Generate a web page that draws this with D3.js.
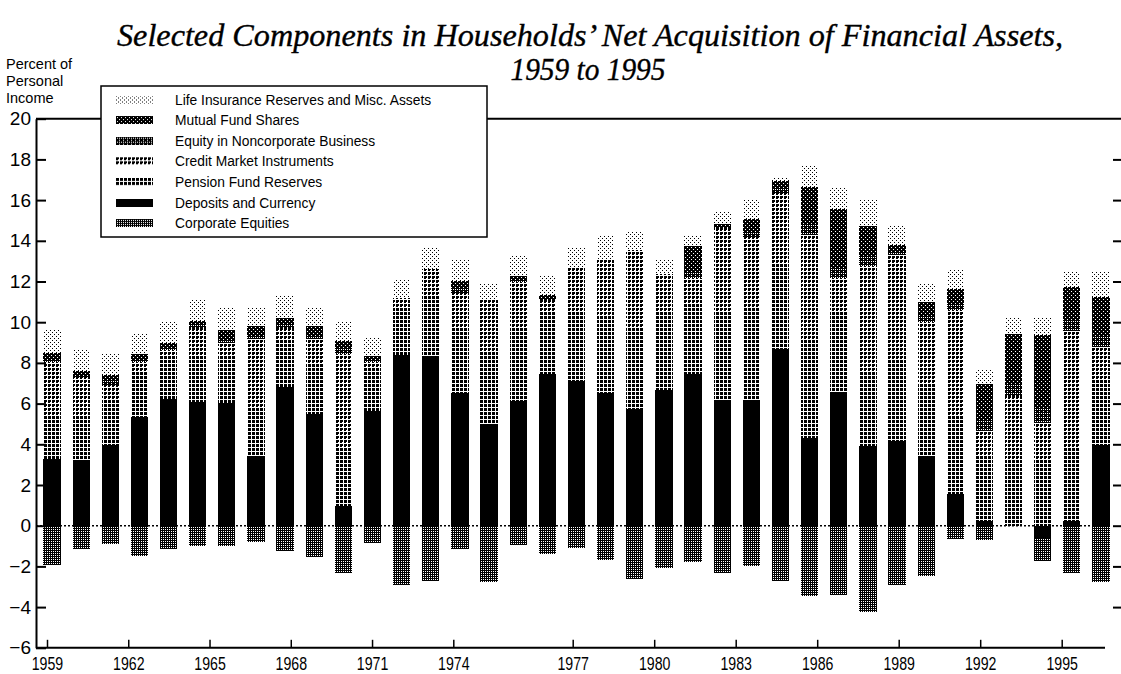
<!DOCTYPE html>
<html><head><meta charset="utf-8">
<script src="https://cdn.jsdelivr.net/npm/d3@7"></script>
<style>body{margin:0;background:#fff}svg{display:block}</style>
</head><body>
<svg id="c" width="1121" height="674"></svg>
<script>
// ---------- data (percent of personal income) ----------
const years = [1959,1960,1961,1962,1963,1964,1965,1966,1967,1968,1969,1970,1971,1972,1973,1974,1975,1976,1977,1978,1979,1980,1981,1982,1983,1984,1985,1986,1987,1988,1989,1990,1991,1992,1993,1994,1995];
const lifeInsurance = [1.12,1.03,1.07,1.03,1.06,1.05,1.14,0.95,1.12,0.93,0.94,0.92,0.90,1.03,1.07,0.80,0.97,0.98,0.98,1.15,0.89,0.71,0.55,0.58,0.94,0.12,1.10,1.03,1.29,0.97,0.90,0.98,0.68,0.80,0.85,0.79,1.28];
const mutualFunds = [0.29,0.21,0.31,0.24,0.23,0.22,0.42,0.43,0.34,0.42,0.42,0.18,0,0,0.40,0,0.18,0.14,0,0,0,0,1.28,0.14,0.58,0.41,1.84,2.79,1.53,0.32,0.68,0.68,1.79,2.43,3.53,1.63,1.91];
const noncorpEquity = [0.15,0.10,0.18,0.12,0.10,0.12,0.24,0.22,0.18,0.25,0.22,0.10,0,0,0.21,0,0.10,0.08,0,0,0,0,0.30,0.08,0.30,0.22,0.50,0.60,0.45,0.18,0.30,0.35,0.50,0.60,0.80,0.50,0.55];
const creditMarket = [2.66,1.84,0.74,0.63,0.39,1.34,0.71,3.33,0.57,1.19,4.67,0.31,0.49,1.35,1.82,2.56,2.37,0.65,2.21,2.90,3.90,1.87,1.19,4.05,3.44,3.47,5.20,1.70,5.23,5.22,3.05,5.14,1.35,3.09,1.84,5.73,1.67];
const pensionFunds = [2.1,2.2,2.2,2.1,2.0,2.3,2.2,2.4,2.3,2.5,2.8,2.1,2.3,2.9,3.1,3.6,3.5,3.0,3.4,3.7,3.9,3.8,3.5,4.4,4.6,4.2,4.8,3.9,3.6,3.9,3.5,3.9,3.1,3.3,3.2,3.6,3.1];
const deposits = [3.30,3.25,3.97,5.33,6.24,6.09,6.05,3.43,6.83,5.47,0.97,5.65,8.40,8.35,6.50,4.99,6.13,7.45,7.09,6.50,5.75,6.68,7.46,6.17,6.16,8.66,4.30,6.57,3.93,4.16,3.44,1.56,0.22,0.00,-0.65,0.25,3.99];
const corpEquities = [-1.95,-1.16,-0.90,-1.49,-1.16,-1.00,-1.00,-0.79,-1.23,-1.55,-2.34,-0.83,-2.90,-2.70,-1.13,-2.77,-0.96,-1.38,-1.10,-1.68,-2.60,-2.07,-1.76,-2.31,-1.97,-2.74,-3.46,-3.39,-4.26,-2.93,-2.47,-0.67,-0.72,0,-1.10,-2.33,-2.79];

const seriesNames = ["Life Insurance Reserves and Misc. Assets","Mutual Fund Shares","Equity in Noncorporate Business","Credit Market Instruments","Pension Fund Reserves","Deposits and Currency","Corporate Equities"];
const yTicks = [-6,-4,-2,0,2,4,6,8,10,12,14,16,18,20];
const xTickYears = [1959,1962,1965,1968,1971,1974,1977,1980,1983,1986,1989,1992,1995];
const titleLines = ["Selected Components in Households\u2019 Net Acquisition of Financial Assets,","1959 to 1995"];
const yAxisTitle = ["Percent of","Personal","Income"];

// ---------- build table ----------
const keys = ["dep","pen","cred","nonc","mf","life","ce"];
const keyName = {life:seriesNames[0],mf:seriesNames[1],nonc:seriesNames[2],cred:seriesNames[3],pen:seriesNames[4],dep:seriesNames[5],ce:seriesNames[6]};
const table = years.map((yr,i)=>({year:yr,dep:deposits[i],pen:pensionFunds[i],cred:creditMarket[i],nonc:noncorpEquity[i],mf:mutualFunds[i],life:lifeInsurance[i],ce:corpEquities[i]}));

const svg = d3.select("#c");
const defs = svg.append("defs");

// ---------- fill patterns (tiles of black pixels) ----------
function pat(id, size, cells){
  const p = defs.append("pattern").attr("id",id).attr("patternUnits","userSpaceOnUse")
    .attr("width",size).attr("height",size);
  p.append("rect").attr("width",size).attr("height",size).attr("fill","#fff");
  cells.forEach(([cx,cy])=>p.append("rect").attr("x",cx).attr("y",cy).attr("width",1).attr("height",1).attr("fill","#000"));
}
function allBut(size, holes){
  const out=[];
  for(let y=0;y<size;y++)for(let x=0;x<size;x++){ if(!holes.some(h=>h[0]===x&&h[1]===y)) out.push([x,y]); }
  return out;
}
pat("p-life",4,[[0,0],[2,2]]);
pat("p-mf",4,allBut(4,[[1,1],[3,3]]));
pat("p-nonc",4,allBut(4,[[1,1],[3,3],[3,1]]));
pat("p-cred",4,[[0,0],[1,0],[2,0],[0,1],[1,1],[2,1],[0,2],[1,2],[2,2]].filter(c=>!(c[0]===2&&c[1]===2)));
pat("p-pen",4,[[0,0],[1,0],[2,0],[0,1],[1,1],[2,1],[0,2],[1,2],[2,2]]);
pat("p-ce",4,allBut(4,[[1,1],[3,3],[1,3],[3,1]]));
const fillOf = {life:"url(#p-life)",mf:"url(#p-mf)",nonc:"url(#p-nonc)",cred:"url(#p-cred)",pen:"url(#p-pen)",dep:"#000",ce:"url(#p-ce)"};

// ---------- scales ----------
const y = d3.scaleLinear().domain([-6,20]).range([647.8,118.7]);
const xBand = d3.scaleBand().domain(years).range([37.4,1115.6]).paddingInner(0.41).paddingOuter(0.205);
const xTick = d3.scaleLinear().domain([1959,1974,1977,1995]).range([47,453.3,572.7,1061.7]);

const font = "'Liberation Sans', Arial, Helvetica, sans-serif";
const serif = "'Liberation Serif', 'Times New Roman', serif";

// ---------- title ----------
svg.append("text").attr("x",590).attr("y",46).attr("text-anchor","middle")
  .attr("font-family",serif).attr("font-style","italic").attr("stroke","#000").attr("stroke-width",0.35)
  .attr("font-size",31).attr("textLength",946).attr("lengthAdjust","spacingAndGlyphs").text(titleLines[0]);
svg.append("text").attr("x",588).attr("y",80).attr("text-anchor","middle")
  .attr("font-family",serif).attr("font-style","italic").attr("stroke","#000").attr("stroke-width",0.35)
  .attr("font-size",31).attr("textLength",155).attr("lengthAdjust","spacingAndGlyphs").text(titleLines[1]);

// y-axis title
svg.append("g").selectAll("text").data(yAxisTitle).join("text")
  .attr("x",6).attr("y",(d,i)=>69+i*17).attr("font-family",font).attr("font-size",14.5).text(d=>d);

// ---------- bars ----------
const stack = d3.stack().keys(keys).offset(d3.stackOffsetDiverging);
const layers = stack(table);
const plot = svg.append("g").attr("shape-rendering","crispEdges");
plot.selectAll("g.layer").data(layers).join("g").attr("class","layer")
  .attr("fill",d=>fillOf[d.key])
  .selectAll("rect").data(d=>d.filter(s=>Math.abs(s[1]-s[0])>0.001)).join("rect")
  .attr("x",d=>xBand(d.data.year)).attr("width",xBand.bandwidth())
  .attr("y",d=>y(Math.max(d[0],d[1]))).attr("height",d=>Math.abs(y(d[0])-y(d[1])));

// zero line (dotted)
svg.append("line").attr("x1",36).attr("x2",1112).attr("y1",y(0)).attr("y2",y(0))
  .attr("stroke","#000").attr("stroke-width",1.5).attr("stroke-dasharray","2,2");

// ---------- axes ----------
const yAx = svg.append("g").attr("transform","translate(36,0)")
  .call(d3.axisLeft(y).tickValues(yTicks).tickSizeInner(-10).tickSizeOuter(0).tickPadding(5).tickFormat(d3.format("d")));
yAx.select(".domain").attr("stroke-width",2);
yAx.selectAll(".tick line").attr("stroke-width",2);
yAx.selectAll("text").attr("font-family",font).attr("font-size",19).attr("fill","#000");

// right ticks
const rAx = svg.append("g").attr("transform","translate(1121,0)")
  .call(d3.axisLeft(y).tickValues(yTicks.filter(v=>v>-6&&v<20)).tickSize(8).tickFormat(""));
rAx.select(".domain").remove();
rAx.selectAll(".tick line").attr("stroke-width",2);

// top line at 20
svg.append("line").attr("x1",36).attr("x2",1121).attr("y1",y(20)).attr("y2",y(20)).attr("stroke","#000").attr("stroke-width",2);

// bottom axis
svg.append("line").attr("x1",36).attr("x2",1105).attr("y1",y(-6)).attr("y2",y(-6)).attr("stroke","#000").attr("stroke-width",2);
const xAx = svg.append("g").attr("transform",`translate(0,${y(-6)})`)
  .call(d3.axisBottom(xTick).tickValues(xTickYears).tickSizeInner(-8).tickSizeOuter(0).tickPadding(9).tickFormat(d3.format("d")));
xAx.select(".domain").remove();
xAx.selectAll(".tick line").attr("stroke-width",1.5);
xAx.selectAll("text").attr("font-family",font).attr("font-size",18).attr("fill","#000")
  .attr("textLength",31.5).attr("lengthAdjust","spacingAndGlyphs");

// ---------- legend ----------
const lg = svg.append("g");
lg.append("rect").attr("x",101).attr("y",86).attr("width",386).attr("height",151)
  .attr("fill","#fff").attr("stroke","#000").attr("stroke-width",1.5);
const legKeys = ["life","mf","nonc","cred","pen","dep","ce"];
const row = lg.selectAll("g.row").data(legKeys).join("g").attr("class","row")
  .attr("transform",(d,i)=>`translate(0,${99.5+i*20.6})`);
row.append("rect").attr("x",116).attr("y",-4).attr("width",37).attr("height",8)
  .attr("fill",d=>fillOf[d]).attr("shape-rendering","crispEdges");
row.append("text").attr("x",175).attr("y",5).attr("font-family",font).attr("font-size",13.8)
  .text(d=>keyName[d]);
</script>
</body></html>
